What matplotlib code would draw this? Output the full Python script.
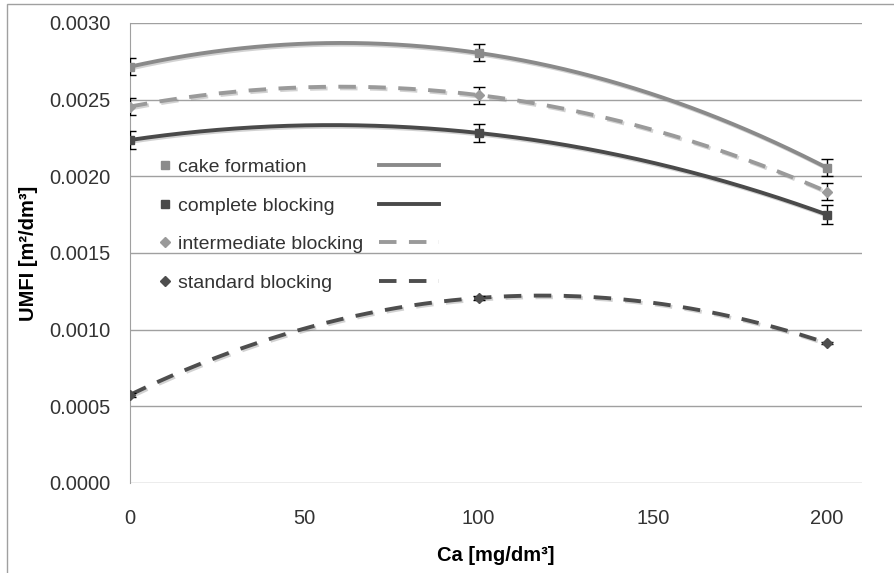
import numpy as np
import matplotlib
matplotlib.use("Agg")
import matplotlib.pyplot as plt
from matplotlib.lines import Line2D
from matplotlib.patches import Rectangle
import matplotlib.patheffects as pe

plt.rcParams['font.family'] = ['Liberation Sans', 'DejaVu Sans']

ca = [0, 100, 200]
cake = [0.002715, 0.002805, 0.002055]
complete = [0.002237, 0.002283, 0.001750]
intermediate = [0.002455, 0.002530, 0.001900]
standard = [0.000575, 0.001207, 0.000912]
err_cake = [0.000055, 0.000055, 0.000055]
err_complete = [0.000060, 0.000060, 0.000060]
err_intermediate = [0.000055, 0.000055, 0.000055]
err_standard = [0.000012, 0.000012, 0.000008]

labels = ["cake formation", "complete blocking", "intermediate blocking", "standard blocking"]
series = [cake, complete, intermediate, standard]
errors = [err_cake, err_complete, err_intermediate, err_standard]
colors = ["#8a8a8a", "#4a4a4a", "#9a9a9a", "#4e4e4e"]
markers = ["s", "s", "D", "D"]
styles = ["-", "-", (0, (4.5, 3.2)), (0, (4.5, 3.2))]

fig = plt.figure(figsize=(8.95, 5.73), dpi=100)
ax = fig.add_axes([130/895, 90/573, 732/895, 460/573])

shadow = [pe.SimpleLineShadow(offset=(1.2, -1.2), shadow_color='gray', alpha=0.35), pe.Normal()]

xs = np.linspace(0, 200, 200)
for y, e, c, m, ls in zip(series, errors, colors, markers, styles):
    coef = np.polyfit(ca, y, 2)
    ax.plot(xs, np.polyval(coef, xs), color=c, lw=2.8, ls=ls, zorder=3, path_effects=shadow,
            solid_capstyle='butt', dash_capstyle='butt')
    ax.errorbar(ca, y, yerr=e, fmt='none', ecolor='black', elinewidth=1, capsize=4, capthick=1, zorder=4)
    ax.plot(ca, y, ls='none', marker=m, ms=6 if m == 's' else 5.5, color=c, zorder=5)

ax.set_xlim(0, 210)
ax.set_ylim(0, 0.003)
ax.set_xticks([0, 50, 100, 150, 200])
ax.set_yticks(np.arange(0, 0.00301, 0.0005))
ax.set_yticklabels([f"{v:.4f}" for v in np.arange(0, 0.00301, 0.0005)])
ax.tick_params(length=0, labelsize=14.5, labelcolor='#333333')
ax.tick_params(axis='y', pad=14)
ax.tick_params(axis='x', pad=18.5)
ax.grid(axis='y', color='#a0a0a0', lw=1)
ax.set_axisbelow(True)
for s in ['top', 'right', 'bottom']:
    ax.spines[s].set_visible(False)
ax.spines['left'].set_color('#a0a0a0')

ax.set_xlabel("Ca [mg/dm³]", fontsize=14.5, fontweight='bold', labelpad=13)
ax.set_ylabel("UMFI [m²/dm³]", fontsize=14.5, fontweight='bold', labelpad=8)

mk_handles = [Line2D([], [], ls='none', marker=m, ms=6 if m == 's' else 5.5, color=c)
              for c, m in zip(colors, markers)]
ln_handles = [Line2D([], [], ls=ls, lw=2.8, color=c) for c, ls in zip(colors, styles)]
leg1 = ax.legend(mk_handles, labels, loc='upper left', bbox_to_anchor=(0.027, 0.727), frameon=False,
                 fontsize=14, labelspacing=1.08, handlelength=0.6, handletextpad=0.35, borderpad=0)
for t in leg1.get_texts():
    t.set_color('#333333')
ax.add_artist(leg1)
ax.legend(ln_handles, [' '] * 4, loc='upper left', bbox_to_anchor=(0.327, 0.727), frameon=False,
          fontsize=14, labelspacing=1.08, handlelength=3.1, handletextpad=0, borderpad=0)

fig.patches.append(Rectangle((7/895, -0.05), 1.0, 569/573 + 0.05, transform=fig.transFigure,
                             fill=False, edgecolor='#a0a0a0', lw=1))

fig.savefig("out.png", dpi=100)
